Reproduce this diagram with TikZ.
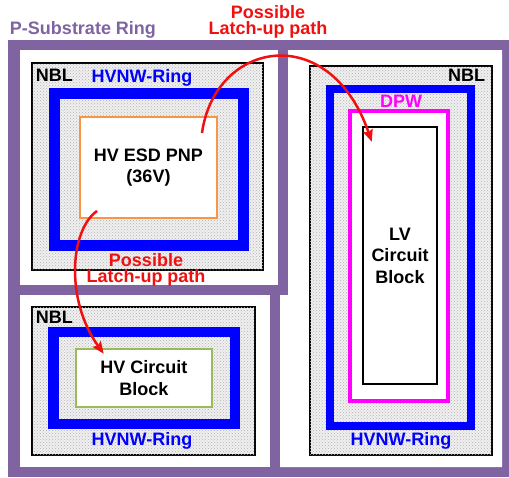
\documentclass[tikz,border=0pt]{standalone}
\usepackage{fontspec}
\setmainfont{Liberation Sans}
\usetikzlibrary{arrows.meta,patterns}
\definecolor{subpurple}{RGB}{128,100,162}
\definecolor{esdorange}{RGB}{247,150,70}
\definecolor{hvgreen}{RGB}{155,187,89}
\definecolor{dpwmagenta}{RGB}{255,0,255}
\definecolor{latchred}{RGB}{240,16,16}
\begin{document}
\begin{tikzpicture}[x=1pt,y=-1pt,
		every node/.style={font=\fontsize{18}{21.5}\selectfont\bfseries, inner sep=0pt},
		nbl/.style={draw=black, line width=1.2pt, fill=black!6, postaction={pattern=crosshatch dots, pattern color=black!30}},
		ring/.style={draw=blue, line width=#1},
		block/.style={fill=white, align=center},
		latchlabel/.style={text=latchred, align=center, font=\fontsize{18}{16}\selectfont\bfseries},
		latch/.style={draw=latchred, line width=2.5pt, -{Stealth[length=12pt,width=10pt,inset=2pt]}}]
	\useasboundingbox (0,0) rectangle (509,477);

	% P-substrate ring with its three cells
	\fill [subpurple] (8,40) rectangle (509,477);
	\fill [white] (20,50) rectangle (278,285);
	\fill [white] (20,295) rectangle (270,467);
	\fill [white] (288,50) -- (502,50) -- (502,467) -- (280,467) -- (280,295) -- (288,295) -- cycle;
	\node [subpurple] (sub-label) at (83,30) {P-Substrate Ring};

	\foreach \n/\cx/\cy/\w/\h in {esd/147.5/166.5/231/207, hv/143.5/381/223/148, lv/401/260.5/182/389}{
			\node [nbl, minimum width=\w pt, minimum height=\h pt] (nbl-\n) at (\cx,\cy) {};
		}
	\foreach \n/\cx/\cy/\w/\h/\lw in {esd/148.75/169/189.5/152/11, hv/144.25/378/181.5/92/10.5, lv/400.5/257.5/141/337/8}{
			\node [ring=\lw pt, minimum width=\w pt, minimum height=\h pt] (ring-\n) at (\cx,\cy) {};
		}

	\node [block, draw=esdorange, line width=2pt, minimum width=137pt, minimum height=101pt] (esd) at (148.5,167.5) {HV ESD PNP\\(36V)};
	\node [block, draw=hvgreen, line width=2.5pt, minimum width=136pt, minimum height=58pt] (hv) at (144,378) {HV Circuit\\Block};
	\node [block, draw=dpwmagenta, line width=4pt, minimum width=98pt, minimum height=290pt] (dpw) at (399,256) {};
	\node [block, draw=black, line width=2.5pt, minimum width=74pt, minimum height=257pt] (lv) at (400,255.5) {LV\\Circuit\\Block};

	% Add labels on layers
	\node (nbl-esd-label) at ([shift={(23,13)}]nbl-esd.north west) {NBL};
	\node (nbl-hv-label) at ([shift={(23,11)}]nbl-hv.north west) {NBL};
	\node (nbl-lv-label) at ([shift={(-26,10)}]nbl-lv.north east) {NBL};
	\node [blue] (ring-esd-label) at (142,78) {HVNW-Ring};
	\node [blue] (ring-hv-label) at (142,441) {HVNW-Ring};
	\node [blue] (ring-lv-label) at (401,441) {HVNW-Ring};
	\node [dpwmagenta] (dpw-label) at (401,101) {DPW};
	\node [latchlabel] (latch-top) at (268,22) {Possible\\Latch-up path};
	\node [latchlabel] (latch-mid) at (146,270) {Possible\\Latch-up path};

	\coordinate (esd-out) at ([shift={(-16,17)}]esd.north east);
	\coordinate (esd-down) at ([shift={(18,-8)}]esd.south west);
	\coordinate (lv-in) at ([shift={(10,16)}]lv.north west);
	\coordinate (hv-in) at ([shift={(29,6)}]hv.north west);
	\draw [latch] (esd-out) .. controls (215,40) and (330,20) .. (lv-in);
	\draw [latch] (esd-down) .. controls (70,230) and (65,300) .. (hv-in);
\end{tikzpicture}
\end{document}
